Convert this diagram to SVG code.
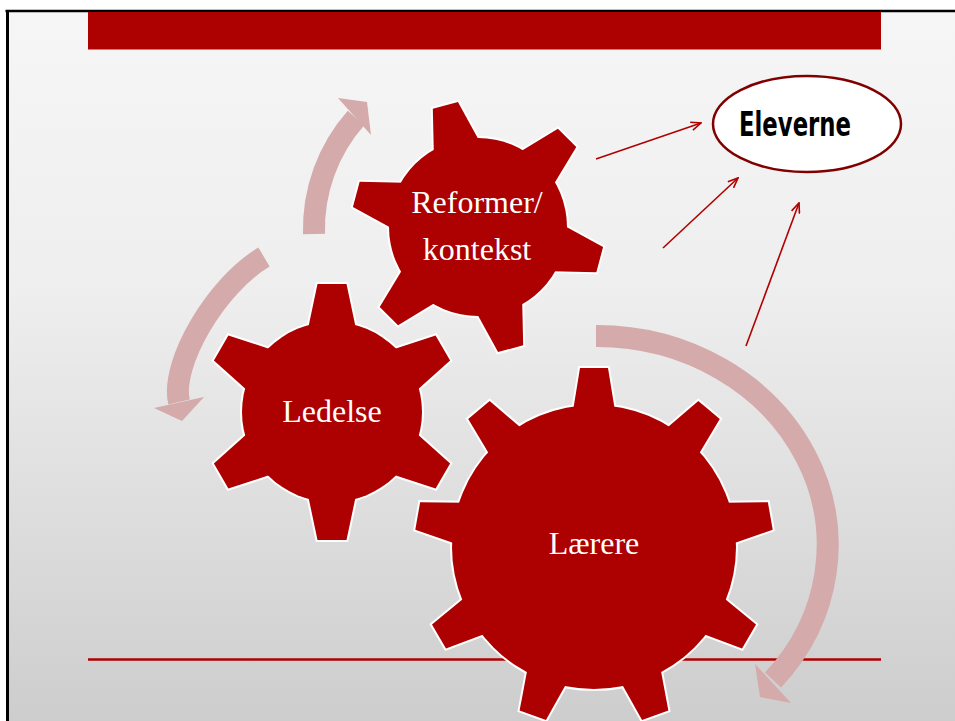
<svg xmlns="http://www.w3.org/2000/svg" xmlns:xlink="http://www.w3.org/1999/xlink" width="955" height="721" viewBox="0 0 955 721">
<style>
.gear-outline{fill:#ffffff;stroke:#ffffff;stroke-width:4;stroke-linejoin:miter}
.gear-fill{fill:#ad0000;stroke:none}
.gear-label{font-family:"Liberation Serif","Times New Roman",serif;font-size:32px;fill:#ffffff;text-anchor:middle}
.pink-body{fill:none;stroke:#d4aaaa;stroke-width:22}
.pink-head{fill:#d4aaaa;stroke:none}
.thin{fill:none;stroke:#b00000;stroke-width:1.6;marker-end:url(#ah)}
</style>
<defs>
<linearGradient id="bg" x1="0" y1="0" x2="0" y2="1">
<stop offset="0" stop-color="#f6f6f6"/>
<stop offset="0.4" stop-color="#eeeeee"/>
<stop offset="1" stop-color="#cdcdcd"/>
</linearGradient>
<marker id="ah" viewBox="0 0 12 10" refX="11" refY="5" markerWidth="12" markerHeight="10" markerUnits="userSpaceOnUse" orient="auto">
<path d="M1,0.8 L11,5 L1,9.2" fill="none" stroke="#b00000" stroke-width="1.6"/>
</marker>
<polygon id="toothBig" points="-21,-136 -14,-179 14,-179 21,-136"/>
<polygon id="toothLed" points="-23.8,-84 -14.5,-128 14.5,-128 23.8,-84"/>
<polygon id="toothRef" points="-23.5,-83 -13,-126 13,-126 23.5,-83"/>
<g id="gearBig">
<circle r="142"/>
<use xlink:href="#toothBig"/>
<use xlink:href="#toothBig" transform="rotate(40)"/>
<use xlink:href="#toothBig" transform="rotate(80)"/>
<use xlink:href="#toothBig" transform="rotate(120)"/>
<use xlink:href="#toothBig" transform="rotate(160)"/>
<use xlink:href="#toothBig" transform="rotate(200)"/>
<use xlink:href="#toothBig" transform="rotate(240)"/>
<use xlink:href="#toothBig" transform="rotate(280)"/>
<use xlink:href="#toothBig" transform="rotate(320)"/>
</g>
<g id="gearLed">
<circle r="90"/>
<use xlink:href="#toothLed"/>
<use xlink:href="#toothLed" transform="rotate(60)"/>
<use xlink:href="#toothLed" transform="rotate(120)"/>
<use xlink:href="#toothLed" transform="rotate(180)"/>
<use xlink:href="#toothLed" transform="rotate(240)"/>
<use xlink:href="#toothLed" transform="rotate(300)"/>
</g>
<g id="gearRef">
<circle r="89"/>
<use xlink:href="#toothRef" transform="rotate(-15)"/>
<use xlink:href="#toothRef" transform="rotate(45)"/>
<use xlink:href="#toothRef" transform="rotate(105)"/>
<use xlink:href="#toothRef" transform="rotate(165)"/>
<use xlink:href="#toothRef" transform="rotate(225)"/>
<use xlink:href="#toothRef" transform="rotate(285)"/>
</g>
</defs>

<g id="background">
<rect x="0" y="0" width="955" height="721" fill="#ffffff"/>
<rect x="8" y="12" width="947" height="709" fill="url(#bg)"/>
<line x1="5.5" y1="11" x2="955" y2="11" stroke="#000000" stroke-width="2.5"/>
<line x1="7.5" y1="10" x2="7.5" y2="721" stroke="#000000" stroke-width="3"/>
<rect x="88" y="12" width="793" height="37.5" fill="#ad0000"/>
<line x1="88" y1="659.5" x2="881" y2="659.5" stroke="#b00000" stroke-width="2.5"/>
</g>

<g id="node-reformer">
<use xlink:href="#gearRef" class="gear-outline" transform="translate(478,227)"/>
<use xlink:href="#gearRef" class="gear-fill" transform="translate(478,227)"/>
<text class="gear-label" x="477" y="213">Reformer/</text>
<text class="gear-label" x="477" y="260">kontekst</text>
</g>

<g id="node-ledelse">
<use xlink:href="#gearLed" class="gear-outline" transform="translate(332,412)"/>
<use xlink:href="#gearLed" class="gear-fill" transform="translate(332,412)"/>
<text class="gear-label" x="332" y="422">Ledelse</text>
</g>

<g id="node-laerere">
<use xlink:href="#gearBig" class="gear-outline" transform="translate(594,547)"/>
<use xlink:href="#gearBig" class="gear-fill" transform="translate(594,547)"/>
<text class="gear-label" x="594" y="554">Lærere</text>
</g>

<g id="node-eleverne">
<ellipse cx="807" cy="124" rx="94" ry="48" fill="#ffffff" stroke="#800000" stroke-width="2.5"/>
<text x="795" y="136" font-family="'DejaVu Sans Condensed','DejaVu Sans',sans-serif" font-weight="bold" font-size="34" fill="#000000" text-anchor="middle" textLength="112" lengthAdjust="spacingAndGlyphs">Eleverne</text>
</g>

<g id="connectors">
<path class="pink-body" d="M314,234 A168,168 0 0 1 356,118"/>
<polygon class="pink-head" points="338,98 367,102 371,135"/>
<path class="pink-body" d="M264,257 C216.7,285 170.2,363 179,402"/>
<polygon class="pink-head" points="154,408 204,397 182,421"/>
<path class="pink-body" d="M596,336 A231,209 0 0 1 773,680"/>
<polygon class="pink-head" points="755,664 791,703 760,697"/>
<line class="thin" x1="596" y1="159" x2="701" y2="123"/>
<line class="thin" x1="663" y1="248" x2="738" y2="178"/>
<line class="thin" x1="746" y1="346" x2="799" y2="203"/>
</g>
</svg>
